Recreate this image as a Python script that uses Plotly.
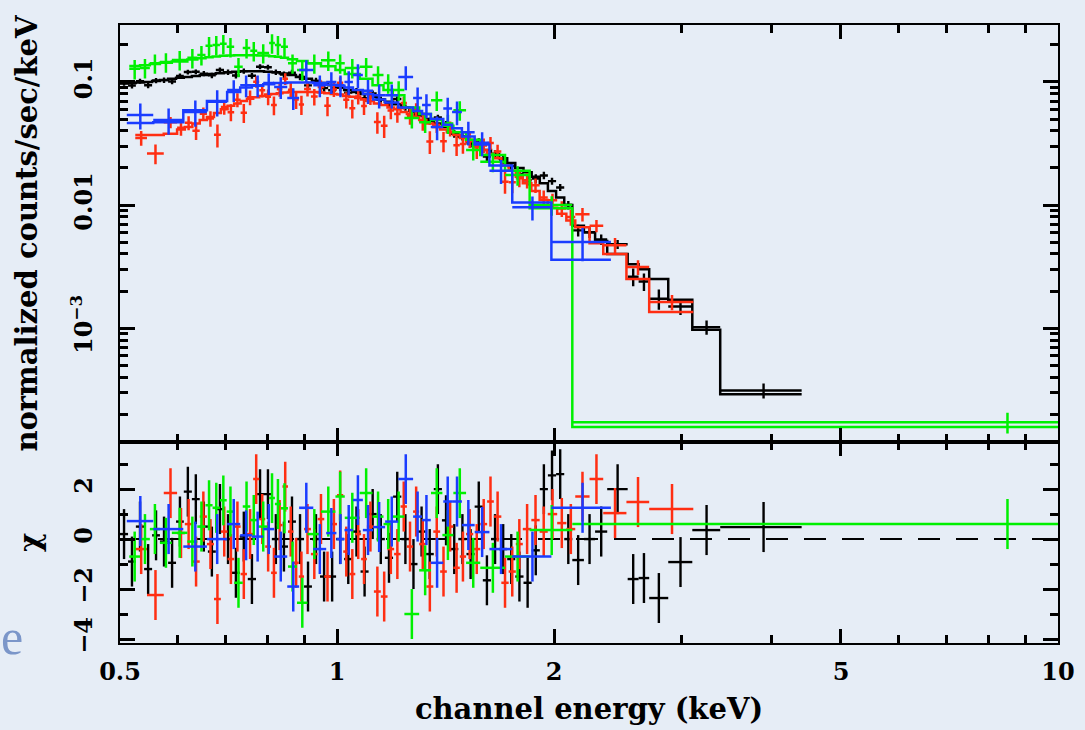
import plotly.graph_objects as go
from plotly.subplots import make_subplots

# ---------------- data ----------------
# black data set: channel bin edges (keV), folded model, fractional error, chi residual
black_edges = [0.500, 0.513, 0.526, 0.540, 0.554, 0.568, 0.583, 0.598, 0.613, 0.629,
               0.645, 0.662, 0.679, 0.697, 0.715, 0.733, 0.752, 0.772, 0.792, 0.812,
               0.833, 0.855, 0.877, 0.900, 0.923, 0.947, 0.972, 0.997, 1.023, 1.050,
               1.078, 1.106, 1.135, 1.165, 1.196, 1.228, 1.260, 1.293, 1.327, 1.362,
               1.398, 1.435, 1.473, 1.512, 1.552, 1.593, 1.635, 1.678, 1.722, 1.767,
               1.814, 1.862, 1.911, 1.961, 2.013, 2.066, 2.120, 2.200, 2.280, 2.370,
               2.530, 2.620, 2.710, 2.880, 3.110, 3.400, 4.410]
black_model = [0.097, 0.098, 0.099, 0.100, 0.102, 0.104, 0.106, 0.108, 0.110, 0.112,
               0.114, 0.116, 0.118, 0.120, 0.121, 0.122, 0.122, 0.122, 0.121, 0.120,
               0.117, 0.114, 0.110, 0.106, 0.102, 0.098, 0.094, 0.090, 0.086, 0.083,
               0.080, 0.076, 0.072, 0.069, 0.066, 0.062, 0.058, 0.054, 0.050, 0.046,
               0.043, 0.039, 0.036, 0.033, 0.030, 0.028, 0.026, 0.024, 0.022, 0.020,
               0.0185, 0.0170, 0.0150, 0.0130, 0.0115, 0.0100, 0.0068, 0.0060, 0.0051, 0.0040,
               0.0033, 0.0030, 0.0025, 0.0017, 0.00097, 0.00029]
black_frac = [0.05, 0.05, 0.05, 0.05, 0.05, 0.05, 0.05, 0.05, 0.05, 0.05,
              0.05, 0.05, 0.05, 0.05, 0.05, 0.05, 0.05, 0.05, 0.05, 0.05,
              0.06, 0.06, 0.06, 0.06, 0.06, 0.06, 0.06, 0.06, 0.06, 0.06,
              0.06, 0.06, 0.06, 0.06, 0.06, 0.06, 0.06, 0.06, 0.06, 0.06,
              0.07, 0.07, 0.07, 0.07, 0.07, 0.07, 0.07, 0.07, 0.07, 0.07,
              0.08, 0.08, 0.08, 0.08, 0.08, 0.08, 0.10, 0.10, 0.10, 0.10,
              0.13, 0.13, 0.13, 0.13, 0.14, 0.15]
black_chi = [0.2, -0.9, 0.5, -1.2, 0.15, -0.1, -0.95, 0.7, 1.9, 1.6,
             0.5, -0.5, 1.2, 0.0, -1.35, 0.1, -1.6, 1.8, 1.8, 0.0,
             -0.3, 0.7, 0.0, -1.9, 0.0, -1.5, -1.5, 0.0, -0.8, 0.3,
             -1.3, 1.0, 0.0, -0.75, 1.7, 0.0, -1.0, 0.3, -0.6, 2.0,
             0.75, -0.4, 0.0, -0.6, 1.3, -1.65, 0.0, -0.4, -0.8, -1.5,
             -1.75, -0.45, 2.0, 2.55, 2.6, 0.0, -0.84, 0.0, 0.3, 2.0,
             -1.6, -1.56, -2.36, -0.92, 0.36, 0.48]

# red data set
red_edges = [0.525, 0.545, 0.575, 0.600, 0.615, 0.630, 0.645, 0.660, 0.675, 0.690,
             0.705, 0.720, 0.735, 0.750, 0.765, 0.780, 0.795, 0.810, 0.825, 0.840,
             0.855, 0.870, 0.885, 0.900, 0.920, 0.940, 0.960, 0.980, 1.000, 1.020,
             1.040, 1.060, 1.080, 1.100, 1.125, 1.150, 1.175, 1.200, 1.225, 1.250,
             1.275, 1.300, 1.330, 1.360, 1.390, 1.420, 1.450, 1.480, 1.510, 1.545,
             1.580, 1.615, 1.650, 1.690, 1.730, 1.770, 1.810, 1.860, 1.910, 1.960,
             2.020, 2.080, 2.140, 2.240, 2.340, 2.520, 2.710, 3.120]
red_model = [0.037, 0.037, 0.038, 0.041, 0.043, 0.046, 0.049, 0.052, 0.056, 0.060,
             0.064, 0.067, 0.070, 0.073, 0.075, 0.077, 0.079, 0.080, 0.081, 0.082,
             0.083, 0.083, 0.083, 0.083, 0.083, 0.082, 0.081, 0.080, 0.079, 0.077,
             0.076, 0.074, 0.072, 0.070, 0.067, 0.065, 0.062, 0.060, 0.057, 0.055,
             0.052, 0.049, 0.046, 0.043, 0.041, 0.039, 0.037, 0.035, 0.033, 0.030,
             0.028, 0.026, 0.024, 0.021, 0.019, 0.017, 0.015, 0.013, 0.011, 0.0095,
             0.0085, 0.0075, 0.0066, 0.0049, 0.0040, 0.0025, 0.00135]
red_frac = [0.13, 0.13, 0.13, 0.14, 0.14, 0.14, 0.14, 0.14, 0.14, 0.14,
            0.14, 0.14, 0.14, 0.14, 0.14, 0.14, 0.14, 0.14, 0.14, 0.14,
            0.14, 0.14, 0.14, 0.14, 0.14, 0.14, 0.14, 0.14, 0.14, 0.14,
            0.14, 0.14, 0.14, 0.14, 0.14, 0.14, 0.14, 0.14, 0.14, 0.14,
            0.14, 0.15, 0.15, 0.15, 0.15, 0.15, 0.15, 0.15, 0.15, 0.15,
            0.15, 0.15, 0.15, 0.15, 0.15, 0.15, 0.15, 0.15, 0.15, 0.15,
            0.16, 0.16, 0.16, 0.16, 0.17, 0.17, 0.17]
red_chi = [-0.4, -2.24, 1.84, 0.24, 0.6, -0.9, 0.9, -0.2, -2.4, 0.3,
           -0.8, 0.5, -1.4, 0.2, 2.4, 0.8, -0.3, -1.35, 0.56, 2.1,
           0.3, -0.95, -1.5, 0.4, -0.6, 0.8, -1.5, 0.6, 1.75, -0.5,
           -1.4, 0.2, -0.8, 0.5, -2.1, -2.3, -0.4, -0.6, 1.3, -0.3,
           1.1, -0.2, -1.9, 0.3, -1.3, 0.5, -1.15, -0.7, 0.2, -0.4,
           0.6, 1.5, 0.9, -1.75, -1.3, -0.2, 0.4, 0.76, 0.3, 1.0,
           0.64, 0.4, 1.7, 2.4, 1.04, 1.48, 1.2]

# green data set
green_edges = [0.515, 0.533, 0.550, 0.568, 0.590, 0.620, 0.640, 0.657, 0.672, 0.688,
               0.703, 0.720, 0.740, 0.758, 0.775, 0.805, 0.820, 0.836, 0.855, 0.880,
               0.910, 0.950, 0.995, 1.025, 1.075, 1.120, 1.160, 1.195, 1.240, 1.300,
               1.350, 1.400, 1.450, 1.510, 1.580, 1.710, 1.850, 2.120, 14.90]
green_model = [0.135, 0.137, 0.140, 0.143, 0.147, 0.152, 0.156, 0.159, 0.161, 0.163,
               0.164, 0.165, 0.165, 0.165, 0.164, 0.162, 0.160, 0.157, 0.153, 0.148,
               0.142, 0.134, 0.125, 0.116, 0.106, 0.094, 0.086, 0.078, 0.062, 0.055,
               0.049, 0.044, 0.039, 0.034, 0.0255, 0.019, 0.0094, 0.000157]
green_data = [0.128, 0.130, 0.142, 0.145, 0.151, 0.157, 0.166, 0.197, 0.200, 0.204,
              0.193, 0.133, 0.189, 0.179, 0.172, 0.207, 0.200, 0.193, 0.142, 0.125,
              0.142, 0.150, 0.142, 0.130, 0.133, 0.114, 0.098, 0.086, 0.051, 0.047,
              0.071, 0.046, 0.059, 0.028, 0.0225, 0.0175, 0.0100, 0.000172]
green_frac = [0.18, 0.18, 0.18, 0.18, 0.18, 0.18, 0.18, 0.18, 0.18, 0.18,
              0.18, 0.18, 0.18, 0.18, 0.18, 0.18, 0.18, 0.18, 0.18, 0.18,
              0.18, 0.18, 0.18, 0.18, 0.18, 0.18, 0.18, 0.18, 0.18, 0.18,
              0.18, 0.18, 0.18, 0.18, 0.18, 0.18, 0.18, 0.19]
green_chi = [-0.7, 0.0, 0.4, -0.15, 0.25, -0.1, 0.5, 1.35, 1.25, 1.55,
             1.1, -1.75, 1.3, 0.76, 0.5, 1.64, 1.4, 1.23, -1.1, -2.55,
             0.2, 1.1, 1.7, 0.85, 1.84, 0.9, 0.6, 0.9, -3.0, -1.25,
             1.84, 0.16, 1.84, -0.95, -1.15, -0.7, 0.36, 0.6]

# blue data set
blue_edges = [0.511, 0.556, 0.612, 0.660, 0.704, 0.734, 0.762, 0.790, 0.818, 0.853,
              0.886, 0.927, 0.966, 0.998, 1.024, 1.052, 1.086, 1.122, 1.166, 1.216,
              1.275, 1.312, 1.349, 1.404, 1.444, 1.490, 1.552, 1.627, 1.750, 1.983,
              2.398]
blue_model = [0.0465, 0.047, 0.059, 0.070, 0.083, 0.090, 0.093, 0.096, 0.098, 0.099,
              0.099, 0.098, 0.095, 0.093, 0.090, 0.086, 0.080, 0.072, 0.068, 0.062,
              0.058, 0.055, 0.050, 0.045, 0.042, 0.036, 0.031, 0.021, 0.0105, 0.0036]
blue_data = [0.054, 0.049, 0.057, 0.069, 0.086, 0.094, 0.094, 0.098, 0.091, 0.074,
             0.125, 0.094, 0.100, 0.094, 0.100, 0.114, 0.085, 0.078, 0.078, 0.110,
             0.074, 0.065, 0.043, 0.061, 0.057, 0.039, 0.032, 0.019, 0.0096, 0.0050]
blue_frac = [0.24, 0.24, 0.24, 0.24, 0.20, 0.20, 0.20, 0.20, 0.20, 0.20,
             0.20, 0.20, 0.20, 0.20, 0.22, 0.22, 0.22, 0.22, 0.22, 0.22,
             0.22, 0.22, 0.22, 0.22, 0.22, 0.22, 0.22, 0.22, 0.22, 0.30]
blue_chi = [0.72, 0.4, -0.3, 0.0, 0.6, 0.15, 0.1, 0.4, -0.7, -1.9,
            1.25, -0.4, 0.24, 0.0, 0.36, 1.56, 0.36, 0.48, 0.7, 2.4,
            0.9, 0.76, -0.95, 1.5, 1.5, 0.56, 0.28, -0.4, -0.7, 1.25]

# axis ticks
x_major = [0.5, 1, 2, 5, 10]
x_major_text = ["0.5", "1", "2", "5", "10"]
x_minor = [0.6, 0.7, 0.8, 0.9, 3, 4, 6, 7, 8, 9]
y_major = [0.001, 0.01, 0.1]
y_major_text = ["10<sup>\u22123</sup>", "0.01", "0.1"]
y_minor = [2e-4, 3e-4, 4e-4, 5e-4, 6e-4, 7e-4, 8e-4, 9e-4,
           2e-3, 3e-3, 4e-3, 5e-3, 6e-3, 7e-3, 8e-3, 9e-3,
           0.02, 0.03, 0.04, 0.05, 0.06, 0.07, 0.08, 0.09, 0.2]
chi_major = [-4, -2, 0, 2]
chi_major_text = ["\u22124", "\u22122", "0", "2"]
chi_minor = [-3, -1, 1, 3]

BLACK = "#000000"
RED = "#ff2e12"
GREEN = "#00f000"
BLUE = "#1a3cff"
BG = "#e6edf6"
FONT = "DejaVu Serif"
NOMARK = "rgba(0,0,0,0)"


def bin_geometry(edges):
    lo = edges[:-1]
    hi = edges[1:]
    centre = [(a + b) / 2 for a, b in zip(lo, hi)]
    plus = [b - c for b, c in zip(hi, centre)]
    minus = [c - a for a, c in zip(lo, centre)]
    return centre, plus, minus


fig = make_subplots(rows=2, cols=1, shared_xaxes=True, vertical_spacing=0,
                    row_heights=[0.675, 0.325])


def add_set(edges, model, frac, chi, colour, data=None, thick=2.5):
    centre, plus, minus = bin_geometry(edges)
    if data is None:
        # folded data from the model and the chi residual (chi = (d - m) / sigma)
        sig = [f * m for f, m in zip(frac, model)]
        data = [m + c * s for m, c, s in zip(model, chi, sig)]
    else:
        sig = [f * d for f, d in zip(frac, data)]
    # model as a histogram step
    fig.add_trace(go.Scatter(x=edges, y=model + [model[-1]], mode="lines",
                             line=dict(color=colour, width=2.5, shape="hv"),
                             hoverinfo="skip", showlegend=False), row=1, col=1)
    # data crosses
    fig.add_trace(go.Scatter(x=centre, y=data, mode="markers",
                             marker=dict(size=2, color=NOMARK),
                             error_x=dict(type="data", symmetric=False, array=plus,
                                          arrayminus=minus, width=0, thickness=thick,
                                          color=colour),
                             error_y=dict(type="data", array=sig, width=0,
                                          thickness=thick, color=colour),
                             showlegend=False), row=1, col=1)
    # residuals
    fig.add_trace(go.Scatter(x=centre, y=chi, mode="markers",
                             marker=dict(size=2, color=NOMARK),
                             error_x=dict(type="data", symmetric=False, array=plus,
                                          arrayminus=minus, width=0, thickness=thick,
                                          color=colour),
                             error_y=dict(type="constant", value=1, width=0,
                                          thickness=thick, color=colour),
                             showlegend=False), row=2, col=1)


add_set(black_edges, black_model, black_frac, black_chi, BLACK, thick=2.4)
add_set(red_edges, red_model, red_frac, red_chi, RED)
add_set(green_edges, green_model, green_frac, green_chi, GREEN, data=green_data)
add_set(blue_edges, blue_model, blue_frac, blue_chi, BLUE, data=blue_data)

fig.add_hline(y=0, row=2, col=1, layer="below",
              line=dict(color="black", width=2, dash="22px,16px"))

tickfont = dict(family=FONT, size=24, color="black", weight="bold")
titlefont = dict(family=FONT, size=29, color="black", weight="bold")

common_x = dict(type="log", range=[-0.30103, 1.0], showgrid=False, zeroline=False,
                showline=True, linecolor="black", linewidth=2, mirror="allticks",
                ticks="inside", ticklen=14, tickwidth=2.5, tickcolor="black",
                tickvals=x_major, ticktext=x_major_text, automargin=False,
                minor=dict(tickvals=x_minor, ticks="inside", ticklen=8,
                           tickwidth=2.5, tickcolor="black", showgrid=False))
fig.update_xaxes(**common_x, showticklabels=False, row=1, col=1)
fig.update_xaxes(**common_x, showticklabels=True, tickfont=tickfont,
                 ticklabelstandoff=6,
                 title=dict(text="channel energy (keV)", font=titlefont, standoff=14),
                 row=2, col=1)

fig.update_yaxes(type="log", range=[-3.927, -0.537], showgrid=False, zeroline=False,
                 showline=True, linecolor="black", linewidth=2, mirror="allticks",
                 ticks="inside", ticklen=15, tickwidth=2.5, tickcolor="black",
                 tickvals=y_major, ticktext=y_major_text, tickangle=-90,
                 tickfont=tickfont, ticklabelstandoff=16, automargin=False,
                 minor=dict(tickvals=y_minor, ticks="inside", ticklen=8,
                            tickwidth=2.5, tickcolor="black", showgrid=False),
                 title=dict(text="normalized counts/sec/keV", font=titlefont, standoff=20),
                 row=1, col=1)
fig.update_yaxes(range=[-4.16, 3.88], showgrid=False, zeroline=False,
                 showline=True, linecolor="black", linewidth=2, mirror="allticks",
                 ticks="inside", ticklen=15, tickwidth=2.5, tickcolor="black",
                 tickvals=chi_major, ticktext=chi_major_text, tickangle=-90,
                 tickfont=tickfont, ticklabelstandoff=16, automargin=False,
                 minor=dict(tickvals=chi_minor, ticks="inside", ticklen=8,
                            tickwidth=2.5, tickcolor="black", showgrid=False),
                 title=dict(text="\u03c7", font=titlefont, standoff=20),
                 row=2, col=1)

# fragment of slide text at the lower left
fig.add_annotation(text="e", xref="paper", yref="paper", x=-0.115, y=0.01,
                   xanchor="center", yanchor="middle", showarrow=False,
                   font=dict(family="Liberation Serif", size=50, color="#7b96c9"))

fig.update_layout(width=1085, height=730, paper_bgcolor=BG, plot_bgcolor=BG,
                  margin=dict(l=120, r=27, t=25, b=87, autoexpand=False),
                  showlegend=False)

fig.write_html("out.html", config={"displayModeBar": False},
               post_script="document.body.style.margin='0px';"
                           "document.body.style.background='" + BG + "';")
